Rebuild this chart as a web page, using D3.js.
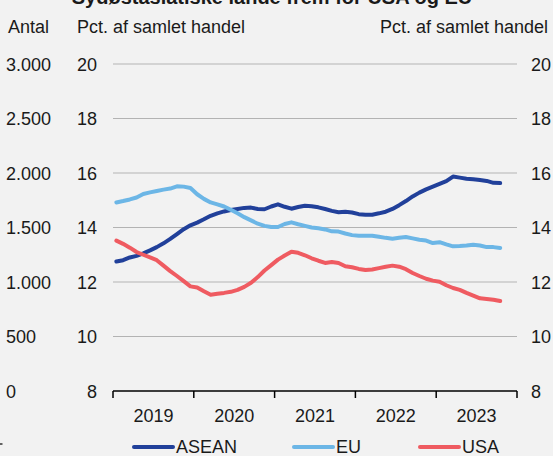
<!DOCTYPE html>
<html><head><meta charset="utf-8">
<script src="https://cdn.jsdelivr.net/npm/d3@7"></script>
<style>
html,body{margin:0;padding:0;background:#f2f2f2;}
svg{display:block;font-family:"Liberation Sans",Arial,sans-serif;}
</style></head>
<body>
<svg id="chart" width="553" height="456"></svg>
<script>
const title = "Sydøstasiatiske lande frem for USA og EU";
const years = ["2019","2020","2021","2022","2023"];
const pctTicks = [8,10,12,14,16,18,20];
const countTicks = ["0","500","1.000","1.500","2.000","2.500","3.000"];
const seriesNames = ["ASEAN","EU","USA"];
const seriesColors = ["#21409a","#6cb6e6","#ef5b61"];
const asean = [12.75,12.80,12.90,12.96,13.05,13.16,13.28,13.42,13.58,13.76,13.94,14.08,
  14.18,14.30,14.43,14.52,14.59,14.64,14.68,14.72,14.73,14.68,14.67,14.77,
  14.85,14.76,14.69,14.75,14.80,14.78,14.74,14.68,14.61,14.56,14.58,14.55,
  14.49,14.47,14.47,14.52,14.58,14.68,14.82,14.97,15.14,15.28,15.40,15.50,
  15.60,15.70,15.87,15.83,15.79,15.77,15.74,15.71,15.64,15.63];
const eu = [14.92,14.97,15.03,15.10,15.23,15.29,15.34,15.39,15.43,15.51,15.50,15.45,
  15.22,15.05,14.92,14.85,14.77,14.65,14.52,14.38,14.26,14.14,14.06,14.02,
  14.02,14.13,14.19,14.12,14.06,14.00,13.97,13.93,13.86,13.85,13.78,13.72,
  13.70,13.70,13.70,13.66,13.62,13.59,13.62,13.65,13.60,13.55,13.52,13.43,
  13.46,13.38,13.31,13.32,13.34,13.37,13.34,13.28,13.28,13.25];
const usa = [13.52,13.40,13.26,13.10,13.00,12.90,12.80,12.60,12.40,12.22,12.03,11.84,
  11.80,11.66,11.53,11.57,11.60,11.64,11.71,11.82,11.97,12.18,12.42,12.62,
  12.82,12.97,13.11,13.07,12.98,12.87,12.78,12.70,12.73,12.70,12.58,12.54,
  12.48,12.44,12.46,12.51,12.56,12.60,12.56,12.47,12.33,12.22,12.12,12.05,
  12.01,11.88,11.78,11.71,11.60,11.50,11.40,11.38,11.35,11.30];
const seriesValues = [asean, eu, usa];

const svg = d3.select("#chart");
const W = 553, H = 456;
const x0 = 113, x1 = 517, yTop = 64, yBot = 391;
const fs = 18, txt = "#1a1a1a";

const y = d3.scaleLinear().domain([8,20]).range([yBot, yTop]);
const months = d3.range(years.length * 12);
const xb = d3.scaleBand().domain(months).range([x0, x1]).paddingInner(0).paddingOuter(0);
const xYear = d3.scaleBand().domain(years).range([x0, x1]);

svg.append("rect").attr("width", W).attr("height", H).attr("fill", "#f2f2f2");

// title (cut off at top, as in the reference)
svg.append("text").attr("x", 272).attr("y", 4).attr("text-anchor", "middle")
  .attr("font-size", 20).attr("font-weight", "bold").attr("fill", txt).text(title);

// axis titles
svg.append("text").attr("x", 8).attr("y", 33).attr("font-size", fs).attr("fill", txt).text("Antal");
svg.append("text").attr("x", 77).attr("y", 33).attr("font-size", fs).attr("fill", txt).text("Pct. af samlet handel");
svg.append("text").attr("x", 548).attr("y", 33).attr("text-anchor", "end").attr("font-size", fs).attr("fill", txt).text("Pct. af samlet handel");

// gridlines
svg.append("g").selectAll("line").data(pctTicks.filter(d => d > 8)).join("line")
  .attr("x1", x0).attr("x2", x1).attr("y1", d => y(d)).attr("y2", d => y(d))
  .attr("stroke", "#b3b3b3").attr("stroke-width", 1.2);

// left pct axis
const gl = svg.append("g").attr("transform", `translate(97,0)`)
  .call(d3.axisLeft(y).tickValues(pctTicks).tickSize(0).tickPadding(0).tickFormat(d3.format("d")));
gl.select(".domain").remove();
gl.selectAll("text").attr("font-size", fs).attr("fill", txt).attr("font-family", "Liberation Sans, Arial, sans-serif").attr("dy", "0.35em");

// count axis (0 - 3000)
const yc = d3.scaleLinear().domain([0,3000]).range([yBot, yTop]);
const gc = svg.append("g").attr("transform", `translate(6,0)`)
  .call(d3.axisRight(yc).tickValues(d3.range(0,3001,500)).tickSize(0).tickPadding(0)
    .tickFormat((d,i) => countTicks[i]));
gc.select(".domain").remove();
gc.selectAll("text").attr("font-size", fs).attr("fill", txt).attr("font-family", "Liberation Sans, Arial, sans-serif").attr("dy", "0.35em");

// right pct axis
const gr = svg.append("g").attr("transform", `translate(531,0)`)
  .call(d3.axisRight(y).tickValues(pctTicks).tickSize(0).tickPadding(0).tickFormat(d3.format("d")));
gr.select(".domain").remove();
gr.selectAll("text").attr("font-size", fs).attr("fill", txt).attr("font-family", "Liberation Sans, Arial, sans-serif").attr("dy", "0.35em");

// x axis
const gx = svg.append("g").attr("transform", `translate(0,${yBot})`);
gx.append("line").attr("x1", x0).attr("x2", x1).attr("stroke", "#000").attr("stroke-width", 1.5);
const tickPos = years.map(d => xYear(d)).concat([x1]);
gx.selectAll("line.t").data(tickPos).join("line").attr("class","t")
  .attr("x1", d => d).attr("x2", d => d).attr("y1", 0).attr("y2", 7)
  .attr("stroke", "#000").attr("stroke-width", 1.5);
gx.selectAll("text").data(years).join("text")
  .attr("x", d => xYear(d) + xYear.bandwidth()/2).attr("y", 31)
  .attr("text-anchor", "middle").attr("font-size", fs).attr("fill", txt).text(d => d);

// lines
const line = d3.line().x((d,i) => xb(i) + xb.bandwidth()/2).y(d => y(d)).curve(d3.curveLinear);
seriesValues.forEach((vals, k) => {
  svg.append("path").datum(vals).attr("d", line).attr("fill", "none")
    .attr("stroke", seriesColors[k]).attr("stroke-width", 4)
    .attr("stroke-linejoin", "round").attr("stroke-linecap", "round");
});

// legend
const legX = [134, 294, 420];
seriesNames.forEach((name, k) => {
  svg.append("line").attr("x1", legX[k]).attr("x2", legX[k] + 39).attr("y1", 447).attr("y2", 447)
    .attr("stroke", seriesColors[k]).attr("stroke-width", 4).attr("stroke-linecap", "round");
  svg.append("text").attr("x", legX[k] + 42).attr("y", 453).attr("font-size", fs).attr("fill", txt).text(name);
});

// small cut-off mark bottom-left
svg.append("line").attr("x1", 0).attr("x2", 2.5).attr("y1", 444).attr("y2", 444).attr("stroke", "#333").attr("stroke-width", 1.5);
</script>
</body></html>
